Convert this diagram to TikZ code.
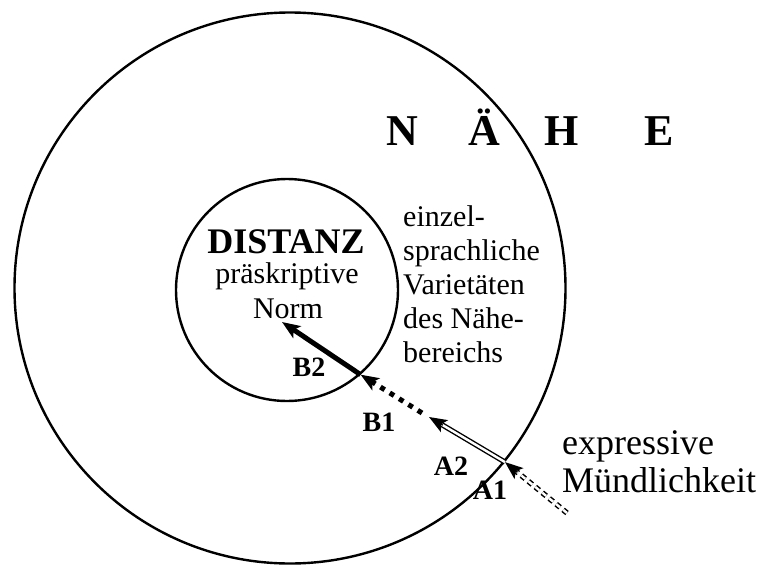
\documentclass[tikz,border=0pt]{standalone}
\usepackage{fontspec}
\setmainfont{Liberation Serif}
\usetikzlibrary{arrows.meta,calc}

\begin{document}
\begin{tikzpicture}[x=1pt, y=-1pt,
  ring/.style={circle, draw, line width=2.4pt, inner sep=0pt},
  stage/.style={inner sep=0pt, font=\bfseries\fontsize{28}{30}\selectfont},
  words/.style={inner sep=0pt, align=left, font=\fontsize{30}{34}\selectfont},
  head/.style={-{Stealth[length=18pt, width=14pt, inset=4pt]}}]

  \useasboundingbox (0,0) rectangle (763,565);

  \node [ring, minimum size=551pt] (outer) at (290,288) {};
  \node [ring, minimum size=222pt] (inner) at (287,290) {};

  \node [inner sep=0pt, anchor=base west, font=\bfseries\fontsize{44}{44}\selectfont] (naehe) at (386,145)
    {N\hspace{51pt}Ä\hspace{44pt}H\hspace{66pt}E};
  \node [inner sep=0pt, anchor=base, font=\bfseries\fontsize{36}{36}\selectfont] (distanz) at (286,253) {DISTANZ};
  \node [inner sep=0pt, anchor=base, font=\fontsize{30}{34}\selectfont] (norm) at (287,283) {präskriptive};
  \node [inner sep=0pt, anchor=base, font=\fontsize{30}{34}\selectfont] (normb) at (288,318) {Norm};
  \node [words, anchor=north west] (varieties) at (403,205)
    {einzel-\\sprachliche\\Varietäten\\des Nähe-\\bereichs};
  \node [words, anchor=north west, font=\fontsize{36}{38}\selectfont] (oral) at (562,430)
    {expressive\\Mündlichkeit};

  \node [stage] (lb2) at (309,367) {B2};
  \node [stage] (lb1) at (379,422) {B1};
  \node [stage] (la2) at (451,466) {A2};
  \node [stage] (la1) at (490,490) {A1};

  \coordinate (start) at (567,513);
  \coordinate (tipa2) at (429,417);
  \coordinate (startb1) at (422,413);
  \coordinate (tipb2) at (282,322);

  % A1 and A2: double shafts, heads drawn on their own
  \draw [line width=1.5pt, double distance=2.4pt, dash pattern=on 5pt off 4pt, shorten >=12pt] (start) -- (outer.-39.4);
  \draw [head, line width=1.5pt] ($(outer.-39.4)!16pt!(start)$) -- (outer.-39.4);
  \draw [line width=1.4pt, double distance=2.4pt, shorten >=12pt] (outer.-39.4) -- (tipa2);
  \draw [head, line width=1.4pt] ($(tipa2)!16pt!(outer.-39.4)$) -- (tipa2);

  % B2 and B1
  \draw [head, line width=5pt] (inner.-49) -- (tipb2);
  \draw [head, line width=5pt, dash pattern=on 5pt off 6pt] (startb1) -- (inner.-49);
\end{tikzpicture}
\end{document}
